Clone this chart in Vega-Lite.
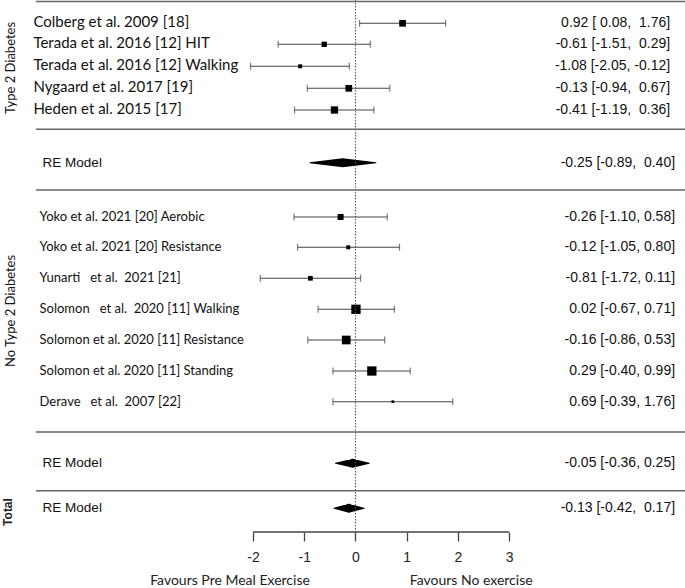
{
  "$schema": "https://vega.github.io/schema/vega-lite/v6.json",
  "width": 685,
  "height": 588,
  "autosize": {"type": "none"},
  "padding": 0,
  "background": "white",
  "config": {
    "view": {"stroke": null},
    "axisX": {"domain": false, "grid": false, "tickSize": 9, "tickColor": "#444", "tickWidth": 1.3, "labelPadding": 9, "labelFont": "Liberation Sans", "labelFontSize": 14, "labelColor": "#222"}
  },
  "data": {"values": [{}]},
  "datasets": {
    "studies": [
      {"study": "Colberg et al. 2009 [18]", "grp": "a", "row": 2.33, "est": 0.92, "lo": 0.08, "hi": 1.76, "wt": 6.7, "ci": "0.92 [\u00a00.08,\u00a0\u00a01.76]"},
      {"study": "Terada et al. 2016 [12] HIT", "grp": "a", "row": 4.43, "est": -0.61, "lo": -1.51, "hi": 0.29, "wt": 5.3, "ci": "-0.61 [-1.51,\u00a0\u00a00.29]"},
      {"study": "Terada et al. 2016 [12] Walking", "grp": "a", "row": 6.63, "est": -1.08, "lo": -2.05, "hi": -0.12, "wt": 4.0, "ci": "-1.08 [-2.05, -0.12]"},
      {"study": "Nygaard et al. 2017 [19]", "grp": "a", "row": 8.83, "est": -0.13, "lo": -0.94, "hi": 0.67, "wt": 6.7, "ci": "-0.13 [-0.94,\u00a0\u00a00.67]"},
      {"study": "Heden et al. 2015 [17]", "grp": "a", "row": 11.0, "est": -0.41, "lo": -1.19, "hi": 0.36, "wt": 7.3, "ci": "-0.41 [-1.19,\u00a0\u00a00.36]"},
      {"study": "Yoko et al. 2021 [20] Aerobic", "grp": "b", "row": 21.7, "est": -0.29, "lo": -1.2, "hi": 0.62, "wt": 6.0, "ci": "-0.26 [-1.10, 0.58]"},
      {"study": "Yoko et al. 2021 [20] Resistance", "grp": "b", "row": 24.73, "est": -0.14, "lo": -1.13, "hi": 0.86, "wt": 4.0, "ci": "-0.12 [-1.05, 0.80]"},
      {"study": "Yunarti\u00a0\u00a0 et al.\u00a0 2021 [21]", "grp": "b", "row": 27.83, "est": -0.88, "lo": -1.86, "hi": 0.1, "wt": 4.7, "ci": "-0.81 [-1.72, 0.11]"},
      {"study": "Solomon\u00a0\u00a0 et al.\u00a0 2020 [11] Walking", "grp": "b", "row": 30.93, "est": 0.01, "lo": -0.73, "hi": 0.76, "wt": 9.3, "ci": "0.02 [-0.67, 0.71]"},
      {"study": "Solomon et al. 2020 [11] Resistance", "grp": "b", "row": 34.0, "est": -0.18, "lo": -0.93, "hi": 0.57, "wt": 8.7, "ci": "-0.16 [-0.86, 0.53]"},
      {"study": "Solomon et al. 2020 [11] Standing", "grp": "b", "row": 37.1, "est": 0.32, "lo": -0.44, "hi": 1.07, "wt": 9.3, "ci": "0.29 [-0.40, 0.99]"},
      {"study": "Derave\u00a0\u00a0 et al.\u00a0 2007 [22]", "grp": "b", "row": 40.17, "est": 0.73, "lo": -0.44, "hi": 1.9, "wt": 2.7, "ci": "0.69 [-0.39, 1.76]"}
    ],
    "models": [
      {"model": "RE1", "name": "RE Model", "row": 16.27, "lo": -0.89, "est": -0.25, "hi": 0.4, "ci": "-0.25 [-0.89,\u00a0\u00a00.40]"},
      {"model": "RE2", "name": "RE Model", "row": 46.33, "lo": -0.39, "est": -0.055, "hi": 0.27, "ci": "-0.05 [-0.36, 0.25]"},
      {"model": "Total", "name": "RE Model", "row": 50.83, "lo": -0.42, "est": -0.13, "hi": 0.17, "ci": "-0.13 [-0.42,\u00a0\u00a00.17]"}
    ],
    "groups": [
      {"label": "Type 2 Diabetes", "mid": 6.8},
      {"label": "No Type 2 Diabetes", "mid": 31.1}
    ]
  },
  "layer": [
    {
      "data": {"name": "studies"},
      "mark": {"type": "rule", "color": "#444", "strokeWidth": 1.1},
      "encoding": {
        "x": {"field": "lo", "type": "quantitative", "title": null,
              "scale": {"domain": [-6.942, 6.436], "nice": false, "zero": false},
              "axis": {"values": [-2, -1, 0, 1, 2, 3], "offset": -56, "title": null, "labelExpr": "'' + datum.value"}},
        "x2": {"field": "hi"},
        "y": {"field": "row", "type": "quantitative", "title": null, "scale": {"domain": [0, 58.8], "reverse": true, "nice": false, "zero": false}, "axis": null}
      }
    },
    {
      "data": {"name": "studies"},
      "mark": {"type": "tick", "orient": "vertical", "size": 7, "thickness": 1.2, "color": "#444"},
      "encoding": {
        "x": {"field": "lo", "type": "quantitative", "title": null},
        "y": {"field": "row", "type": "quantitative", "title": null, "axis": null}
      }
    },
    {
      "data": {"name": "studies"},
      "mark": {"type": "tick", "orient": "vertical", "size": 7, "thickness": 1.2, "color": "#444"},
      "encoding": {
        "x": {"field": "hi", "type": "quantitative", "title": null},
        "y": {"field": "row", "type": "quantitative", "title": null, "axis": null}
      }
    },
    {
      "data": {"name": "studies"},
      "mark": {"type": "point", "shape": "square", "filled": true, "color": "black", "opacity": 1},
      "encoding": {
        "x": {"field": "est", "type": "quantitative", "title": null},
        "y": {"field": "row", "type": "quantitative", "title": null, "axis": null},
        "size": {"field": "wt", "type": "quantitative", "scale": {"type": "pow", "exponent": 2, "domain": [0, 10], "range": [0, 100]}, "legend": null}
      }
    },
    {
      "data": {"name": "models"},
      "transform": [{"fold": ["lo", "est", "hi"], "as": ["pt", "val"]}],
      "mark": {"type": "trail", "color": "black"},
      "encoding": {
        "x": {"field": "val", "type": "quantitative", "title": null},
        "y": {"field": "row", "type": "quantitative", "title": null, "axis": null},
        "detail": {"field": "model", "type": "nominal"},
        "order": {"field": "val", "type": "quantitative"},
        "size": {"field": "pt", "type": "nominal", "scale": {"type": "ordinal", "domain": ["lo", "est", "hi"], "range": [0, 9, 0]}, "legend": null}
      }
    },
    {
      "mark": {"type": "rule", "color": "#555", "strokeDash": [1.5, 1.5], "strokeWidth": 1},
      "encoding": {"x": {"datum": 0, "title": null}, "y": {"datum": 0, "title": null, "axis": null}, "y2": {"datum": 53.2}}
    },
    {
      "mark": {"type": "rule", "color": "#444", "strokeWidth": 1.3},
      "encoding": {"x": {"datum": -2, "title": null}, "x2": {"datum": 3}, "y": {"datum": 53.2, "title": null, "axis": null}}
    },
    {
      "mark": {"type": "rule", "color": "#666", "strokeWidth": 1.6},
      "encoding": {"x": {"datum": -6.24, "title": null}, "x2": {"datum": 6.5}, "y": {"datum": 0.15, "title": null, "axis": null}}
    },
    {
      "mark": {"type": "rule", "color": "#666", "strokeWidth": 1.6},
      "encoding": {"x": {"datum": -6.24, "title": null}, "x2": {"datum": 6.5}, "y": {"datum": 12.93, "title": null, "axis": null}}
    },
    {
      "mark": {"type": "rule", "color": "#666", "strokeWidth": 1.6},
      "encoding": {"x": {"datum": -6.24, "title": null}, "x2": {"datum": 6.5}, "y": {"datum": 19.0, "title": null, "axis": null}}
    },
    {
      "mark": {"type": "rule", "color": "#666", "strokeWidth": 1.6},
      "encoding": {"x": {"datum": -6.24, "title": null}, "x2": {"datum": 6.5}, "y": {"datum": 43.2, "title": null, "axis": null}}
    },
    {
      "mark": {"type": "rule", "color": "#666", "strokeWidth": 1.6},
      "encoding": {"x": {"datum": -6.24, "title": null}, "x2": {"datum": 6.5}, "y": {"datum": 49.07, "title": null, "axis": null}}
    },
    {
      "data": {"name": "studies"},
      "transform": [{"filter": "datum.grp === 'a'"}],
      "mark": {"type": "text", "align": "left", "baseline": "middle", "font": "Lato", "fontSize": 15, "color": "#111", "dy": -1},
      "encoding": {
        "x": {"datum": -6.29, "title": null},
        "y": {"field": "row", "type": "quantitative", "title": null, "axis": null},
        "text": {"field": "study"}
      }
    },
    {
      "data": {"name": "studies"},
      "transform": [{"filter": "datum.grp === 'b'"}],
      "mark": {"type": "text", "align": "left", "baseline": "middle", "font": "Lato", "fontSize": 13, "color": "#111"},
      "encoding": {
        "x": {"datum": -6.17, "title": null},
        "y": {"field": "row", "type": "quantitative", "title": null, "axis": null},
        "text": {"field": "study"}
      }
    },
    {
      "data": {"name": "studies"},
      "transform": [{"filter": "datum.grp === 'a'"}],
      "mark": {"type": "text", "align": "right", "baseline": "middle", "font": "Liberation Sans", "fontSize": 14, "color": "#111"},
      "encoding": {
        "x": {"datum": 6.145, "title": null},
        "y": {"field": "row", "type": "quantitative", "title": null, "axis": null},
        "text": {"field": "ci"}
      }
    },
    {
      "data": {"name": "studies"},
      "transform": [{"filter": "datum.grp === 'b'"}],
      "mark": {"type": "text", "align": "right", "baseline": "middle", "font": "Liberation Sans", "fontSize": 14, "color": "#111"},
      "encoding": {
        "x": {"datum": 6.242, "title": null},
        "y": {"field": "row", "type": "quantitative", "title": null, "axis": null},
        "text": {"field": "ci"}
      }
    },
    {
      "data": {"name": "models"},
      "mark": {"type": "text", "align": "right", "baseline": "middle", "font": "Liberation Sans", "fontSize": 14, "color": "#111"},
      "encoding": {
        "x": {"datum": 6.242, "title": null},
        "y": {"field": "row", "type": "quantitative", "title": null, "axis": null},
        "text": {"field": "ci"}
      }
    },
    {
      "data": {"name": "models"},
      "mark": {"type": "text", "align": "left", "baseline": "middle", "font": "Liberation Sans", "fontSize": 13.5, "color": "#111"},
      "encoding": {
        "x": {"datum": -6.11, "title": null},
        "y": {"field": "row", "type": "quantitative", "title": null, "axis": null},
        "text": {"field": "name"}
      }
    },
    {
      "data": {"name": "groups"},
      "mark": {"type": "text", "align": "center", "baseline": "middle", "angle": 270, "font": "Lato", "fontSize": 13, "color": "#111"},
      "encoding": {
        "x": {"datum": -6.73, "title": null},
        "y": {"field": "mid", "type": "quantitative", "title": null, "axis": null},
        "text": {"field": "label"}
      }
    },
    {
      "mark": {"type": "text", "align": "center", "baseline": "middle", "angle": 270, "font": "Liberation Sans", "fontSize": 12, "fontWeight": "bold", "color": "#222"},
      "encoding": {
        "x": {"datum": -6.78, "title": null},
        "y": {"datum": 51.2, "title": null, "axis": null},
        "text": {"value": "Total"}
      }
    },
    {
      "mark": {"type": "text", "align": "center", "baseline": "middle", "font": "Lato", "fontSize": 14, "color": "#222"},
      "encoding": {
        "x": {"datum": -2.45, "title": null},
        "y": {"datum": 58.1, "title": null, "axis": null},
        "text": {"value": "Favours Pre Meal Exercise"}
      }
    },
    {
      "mark": {"type": "text", "align": "center", "baseline": "middle", "font": "Lato", "fontSize": 14, "color": "#222"},
      "encoding": {
        "x": {"datum": 2.26, "title": null},
        "y": {"datum": 58.1, "title": null, "axis": null},
        "text": {"value": "Favours No exercise"}
      }
    }
  ]
}
